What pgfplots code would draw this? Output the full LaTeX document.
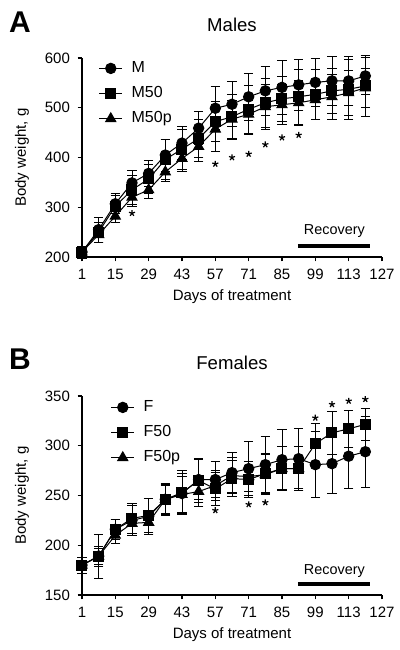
\documentclass[border=0pt]{standalone}
\usepackage{pgfplots}
\pgfplotsset{compat=1.18}
\usepackage{pgfplotstable}
\usepackage{fontspec}
\setmainfont{Liberation Sans}

% Males
\pgfplotstableread{
d w e
1 210 10
8 255 25
15 307 20
22 349 25
29 368 27
36 405 32
43 429 33
50 459 33
57 499 43
64 507 45
71 522 48
78 534 50
85 541 55
92 546 52
99 551 48
106 554 50
113 554 50
120 564 38
}\Mtab
\pgfplotstableread{
d w e
1 210 12
8 250 20
15 302 22
22 335 30
29 357 30
36 396 40
43 417 40
50 438 38
57 472 40
64 482 45
71 497 48
78 510 50
85 518 45
92 522 55
99 527 50
106 534 45
113 537 60
120 544 62
}\MFtab
\pgfplotstableread{
d w e
1 210 10
8 245 15
15 282 12
22 320 18
29 335 18
36 371 20
43 398 25
50 422 30
57 457 45
64 477 38
71 487 40
78 502 45
85 506 40
92 510 45
99 516 40
106 522 45
113 530 45
120 540 40
}\MFPtab
\pgfplotstableread{
d w
22 288
57 387
64 400
71 407
78 426
85 440
92 445
}\Mstar

% Females
\pgfplotstableread{
d w e
1 180 8
8 189 22
15 216 10
22 225 15
29 229 18
36 246 15
43 252 20
50 266 20
57 266 18
64 273 20
71 277 27
78 281 28
85 286 30
92 287 30
99 281 33
106 282 30
113 289.5 32
120 294 36
}\Ftab
\pgfplotstableread{
d w e
1 180 8
8 189 8
15 216 10
22 227 15
29 230 17
36 246 16
43 253 22
50 265 22
57 256.6 17
64 267 18
71 266 18
78 272 20
85 277 22
92 277 22
99 302 20
106 313 22
113 317 19
120 321.5 16
}\FFtab
\pgfplotstableread{
d w e
1 180 8
8 189 10
15 210 8
22 222 10
29 223 12
36 246 14
43 251 18
50 254 15
57 260 15
64 270 18
71 269 15
78 271 20
85 277 22
92 277 22
}\FFPtab
\pgfplotstableread{
d w
57 235
71 241
78 243
99 328
106 341.6
113 345
120 346.7
}\Fstar

\pgfplotsset{
  gp/.style={
    scale only axis, width=150pt, height=99.5pt,
    axis x line*=bottom, axis y line*=left,
    axis line style={-, line width=0.7pt},
    xmin=1, xmax=127, xtick={1,15,...,127},
    tick align=outside, major tick length=2.2pt,
    tick style={black, line width=0.6pt},
    minor tick num=0,
    ticklabel style={font=\fontsize{7.5}{8}\selectfont},
    /pgf/number format/assume math mode=true,
    xticklabel style={yshift=-0.5pt},
    yticklabel style={xshift=-0.3pt},
    xlabel={Days of treatment}, ylabel={Body weight, g},
    every axis x label/.style={at={(axis description cs:0.5,-0.201)}, anchor=center, font=\fontsize{7.5}{8}\selectfont},
    every axis y label/.style={at={(axis description cs:-0.2,0.5)}, rotate=90, anchor=center, font=\fontsize{7.5}{8}\selectfont},
    every axis title/.style={at={(axis description cs:0.5,1.166)}, anchor=center, font=\fontsize{9.3}{10}\selectfont},
    clip=false,
    legend style={draw=none, fill=none, font=\fontsize{8}{9}\selectfont, row sep=1.5pt, column sep=2.5pt, inner sep=0pt, anchor=north west},
    legend cell align=left,
    legend image code/.code={\draw[mark repeat=2,mark phase=2] plot coordinates {(0cm,0cm) (0.2cm,0cm) (0.4cm,0cm)};},
    error bars/error bar style={line width=0.4pt, black},
    error bars/error mark options={rotate=90, mark size=2.4pt, line width=0.4pt, black},
  },
  circ/.style={black, line width=0.5pt, mark=*, mark size=2.6pt, mark options={fill=black, solid}},
  sq/.style={black, line width=0.5pt, mark=square*, mark size=2.5pt, mark options={fill=black, solid}},
  tri/.style={black, line width=0.5pt, mark=triangle*, mark size=2.9pt, mark options={fill=black, solid}},
  stars/.style={black, only marks, mark=star, mark size=1.6pt, mark options={line width=0.6pt, black}, forget plot},
}

\begin{document}
\begin{tikzpicture}
\path[use as bounding box] (-41pt,-196.5pt) rectangle (159pt,128.5pt);

\begin{axis}[gp, at={(0,0)}, anchor=south west,
  ymin=200, ymax=600, ytick={200,300,...,600},
  title={Males},
  legend style={at={(axis description cs:0.055,1.005)}}]
\addplot[circ, error bars/.cd, y dir=both, y explicit] table[x=d, y=w, y error=e]{\Mtab};
\addlegendentry{M}
\addplot[sq, error bars/.cd, y dir=both, y explicit] table[x=d, y=w, y error=e]{\MFtab};
\addlegendentry{M50}
\addplot[tri, error bars/.cd, y dir=both, y explicit] table[x=d, y=w, y error=e]{\MFPtab};
\addlegendentry{M50p}
\addplot[stars] table[x=d, y=w]{\Mstar};
\draw[line width=1.6pt] (axis cs:91.7,222) -- (axis cs:122,222);
\node[font=\fontsize{7.2}{8}\selectfont] at (axis cs:107,252) {Recovery};
\node[font=\fontsize{15}{16}\bfseries\selectfont] at (axis description cs:-0.207,1.181) {A};
\end{axis}

\begin{axis}[gp, at={(0,-169pt)}, anchor=south west,
  ymin=150, ymax=350, ytick={150,200,...,350},
  title={Females},
  legend style={at={(axis description cs:0.095,1.0)}}]
\addplot[circ, error bars/.cd, y dir=both, y explicit] table[x=d, y=w, y error=e]{\Ftab};
\addlegendentry{F}
\addplot[sq, error bars/.cd, y dir=both, y explicit] table[x=d, y=w, y error=e]{\FFtab};
\addlegendentry{F50}
\addplot[tri, error bars/.cd, y dir=both, y explicit] table[x=d, y=w, y error=e]{\FFPtab};
\addlegendentry{F50p}
\addplot[stars] table[x=d, y=w]{\Fstar};
\draw[line width=1.6pt] (axis cs:91.7,161) -- (axis cs:122,161);
\node[font=\fontsize{7.2}{8}\selectfont] at (axis cs:107,174) {Recovery};
\node[font=\fontsize{15}{16}\bfseries\selectfont] at (axis description cs:-0.207,1.186) {B};
\end{axis}
\end{tikzpicture}
\end{document}
